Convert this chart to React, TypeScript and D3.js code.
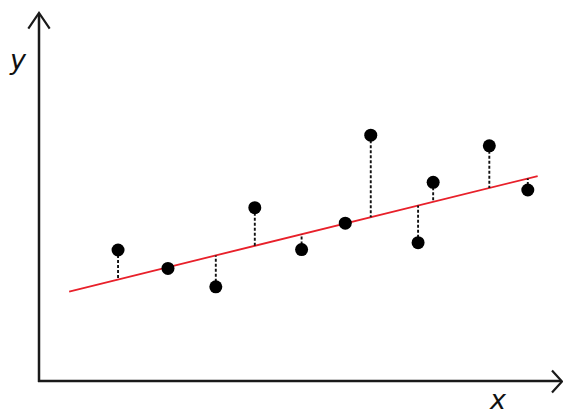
import React from "react";
import * as d3 from "d3";

const xValues = [15.2, 24.8, 34.0, 41.5, 50.5, 58.9, 63.8, 72.9, 75.8, 86.6, 94.0];
const yValues = [35.6, 30.6, 25.6, 47.1, 35.7, 42.9, 66.8, 37.6, 54.0, 63.9, 51.9];
const fitIntercept = 22.28;
const fitSlope = 0.3485;
const fitRange = [5.8, 95.9];
const axisLabels = ["x", "y"];

const W = 563;
const H = 410;

export default function App() {
  const x = d3.scaleLinear().domain([0, 100]).range([39, 559]);
  const y = d3.scaleLinear().domain([0, 100]).range([381, 13]);
  const fit = (v: number) => fitIntercept + fitSlope * v;
  const line = d3
    .line<number>()
    .x((d) => x(d))
    .y((d) => y(fit(d)));

  const x0 = x(0);
  const y0 = y(0);
  const yTop = 13;
  const xRight = 562;
  const axisColor = "#1a1a1a";

  return (
    <svg
      width={W}
      height={H}
      style={{ position: "absolute", left: 0, top: 0, background: "#fff" }}
    >
      {/* axes */}
      <line x1={x0} y1={y0 + 1} x2={x0} y2={yTop + 1} stroke={axisColor} strokeWidth={2.5} />
      <line x1={x0 - 1} y1={y0} x2={xRight - 1} y2={y0} stroke={axisColor} strokeWidth={2.5} />
      <polyline
        points={`${x0 - 10.7},${yTop + 15.6} ${x0},${yTop} ${x0 + 10.7},${yTop + 15.6}`}
        fill="none"
        stroke={axisColor}
        strokeWidth={2.2}
      />
      <polyline
        points={`${xRight - 10},${y0 - 10.5} ${xRight},${y0 + 0.5} ${xRight - 10},${y0 + 11.5}`}
        fill="none"
        stroke={axisColor}
        strokeWidth={2.2}
      />
      {/* fit line */}
      <path d={line(fitRange) || ""} stroke="#e8202a" strokeWidth={1.8} fill="none" />
      {/* residuals */}
      {xValues.map((xv, i) => (
        <line
          key={"r" + i}
          x1={x(xv)}
          x2={x(xv)}
          y1={y(yValues[i])}
          y2={y(fit(xv))}
          stroke="#111"
          strokeWidth={1.9}
          strokeDasharray="3,2"
        />
      ))}
      {/* points */}
      {xValues.map((xv, i) => (
        <circle key={"p" + i} cx={x(xv)} cy={y(yValues[i])} r={6.5} fill="#000" />
      ))}
      {/* labels */}
      <text
        x={490}
        y={409}
        fontFamily="DejaVu Sans"
        fontStyle="italic"
        fontSize={27}
        fill="#111"
      >
        {axisLabels[0]}
      </text>
      <text
        x={10}
        y={69}
        fontFamily="DejaVu Sans"
        fontStyle="italic"
        fontSize={27}
        fill="#111"
      >
        {axisLabels[1]}
      </text>
    </svg>
  );
}
